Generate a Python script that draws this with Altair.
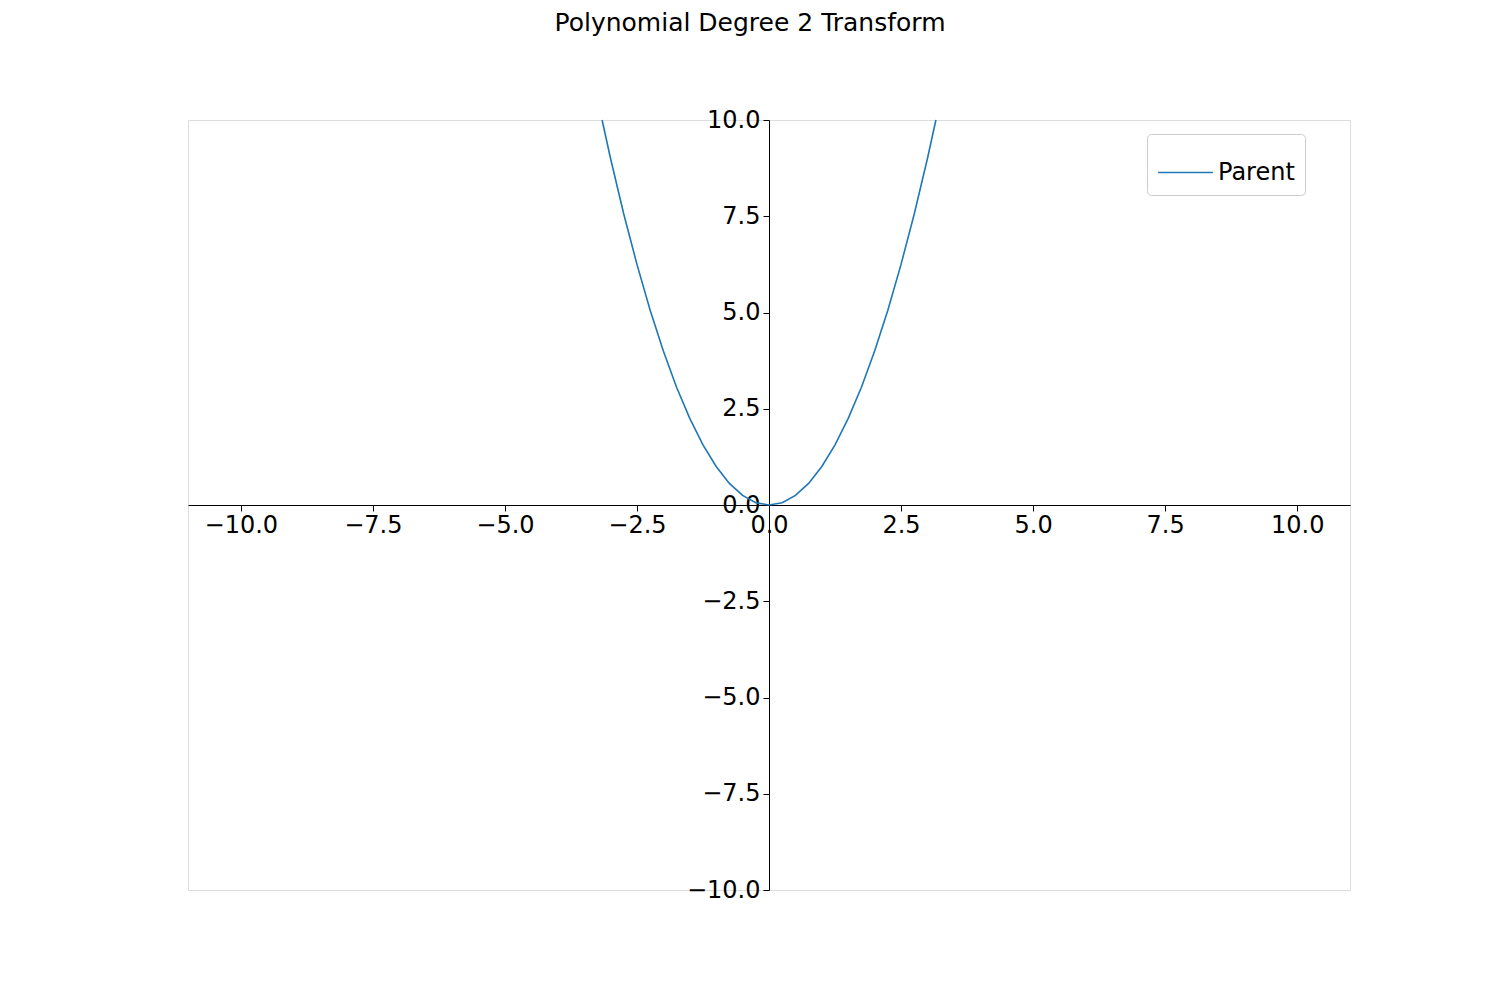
import altair as alt
import pandas as pd

# points
xs = [-3.16, -3.0, -2.75, -2.5, -2.25, -2.0, -1.75, -1.5, -1.25, -1.0, -0.75, -0.5, -0.25,
      0.0, 0.25, 0.5, 0.75, 1.0, 1.25, 1.5, 1.75, 2.0, 2.25, 2.5, 2.75, 3.0, 3.16]
ys = [10.0, 9.0, 7.56, 6.25, 5.06, 4.0, 3.06, 2.25, 1.56, 1.0, 0.56, 0.25, 0.06,
      0.0, 0.06, 0.25, 0.56, 1.0, 1.56, 2.25, 3.06, 4.0, 5.06, 6.25, 7.56, 9.0, 10.0]
ticks = [-10, -7.5, -5, -2.5, 0, 2.5, 5, 7.5, 10]

df = pd.DataFrame({"x": xs, "y": ys, "series": "Parent"})

W, H = 1162, 770

chart = alt.Chart(df).mark_line(strokeWidth=1.6).encode(
    x=alt.X("x:Q", scale=alt.Scale(domain=[-11, 11], nice=False),
            axis=alt.Axis(values=ticks, format=".1f", title=None, offset=-H / 2,
                          labelFontSize=24, tickSize=6, labelPadding=2)),
    y=alt.Y("y:Q", scale=alt.Scale(domain=[-10, 10], nice=False),
            axis=alt.Axis(values=ticks, format=".1f", title=None, offset=-W / 2,
                          labelFontSize=24, tickSize=6, labelPadding=3)),
    color=alt.Color("series:N", scale=alt.Scale(range=["#1f77b4"]),
                    legend=alt.Legend(title=None, orient="none", legendX=959, legendY=14,
                                      labelFontSize=24, symbolType="stroke",
                                      symbolSize=3000, symbolStrokeWidth=1.6,
                                      strokeColor="#cccccc", fillColor="white",
                                      cornerRadius=4, padding=10)),
    order="x:Q",
).properties(
    width=W, height=H,
    title=alt.TitleParams("Polynomial Degree 2 Transform", fontSize=25, fontWeight="normal",
                          offset=72, dx=-19, anchor="middle"),
    autosize=alt.AutoSizeParams(type="none"),
    padding={"left": 180, "top": 112, "right": 140, "bottom": 100},
).configure_view(stroke=None).configure(font="DejaVu Sans").configure_axis(
    grid=False, domainColor="black", tickColor="black", labelColor="black",
    labelFont="DejaVu Sans",
).configure_legend(labelFont="DejaVu Sans")

chart.save("out.html", embed_options={"renderer": "svg", "actions": False})
